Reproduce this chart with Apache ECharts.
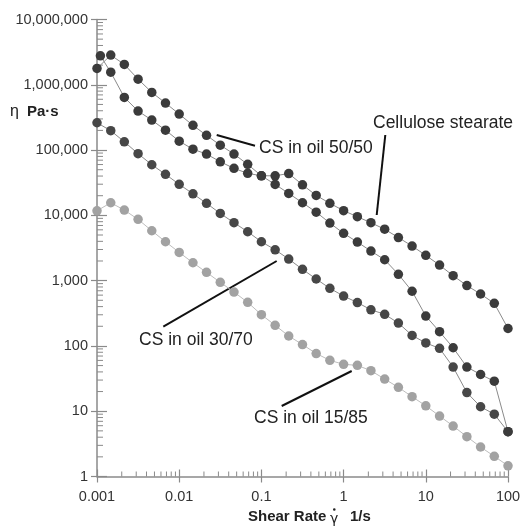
<!DOCTYPE html>
<html><head><meta charset="utf-8">
<script src="https://cdn.jsdelivr.net/npm/echarts@6/dist/echarts.min.js"></script>
<style>html,body{margin:0;padding:0;background:#fff}#c{width:526px;height:531px}</style>
</head><body><div id="c"></div><script>
// Shear rate (1/s), 6 points per decade
const shearRate = [0.001, 0.00147, 0.00215, 0.00316, 0.00464, 0.00681, 0.01, 0.0147, 0.0215, 0.0316, 0.0464, 0.0681,
  0.1, 0.147, 0.215, 0.316, 0.464, 0.681, 1, 1.47, 2.15, 3.16, 4.64, 6.81, 10, 14.7, 21.5, 31.6, 46.4, 68.1, 100];
const shearRateCS = [0.0011, 0.00147, 0.00215, 0.00316, 0.00464, 0.00681, 0.01, 0.0147, 0.0215, 0.0316, 0.0464, 0.0681,
  0.1, 0.147, 0.215, 0.316, 0.464, 0.681, 1, 1.47, 2.15, 3.16, 4.64, 6.81, 10, 14.7, 21.5, 31.6, 46.4, 68.1, 100];
// Viscosity eta (Pa·s)
const celluloseStearate = [2780000, 1560000, 641000, 396000, 288000, 202000, 137000, 103000, 86900, 66200, 52500, 44000,
  40400, 40400, 43700, 29400, 20200, 15300, 11800, 9530, 7710, 6130, 4570, 3390, 2440, 1730, 1190, 841, 624, 449, 185];
const csOil5050 = [1780000, 2850000, 2050000, 1220000, 765000, 525000, 356000, 239000, 168000, 119000, 86900, 60400,
  40400, 29800, 21700, 15600, 11200, 7620, 5300, 3900, 2840, 2090, 1250, 688, 287, 165, 93.8, 47.5, 36.5, 28.8, 4.85];
const csOil3070 = [262000, 198000, 134000, 88100, 59600, 42500, 29900, 21400, 15300, 10700, 7710, 5610,
  3940, 2970, 2140, 1490, 1060, 762, 581, 462, 358, 305, 224, 145, 111, 91.8, 47.5, 19.3, 11.7, 9.0, 4.85];
const csOil1585 = [11750, 15600, 12050, 8680, 5810, 3940, 2710, 1880, 1340, 942, 669, 465,
  301, 207, 142, 105, 76.5, 60.2, 52.2, 50.5, 41.7, 31.1, 23.2, 16.7, 12.1, 8.44, 5.93, 4.07, 2.83, 2.04, 1.46];
// Tick labels
const xTickLabels = ['0.001', '0.01', '0.1', '1', '10', '100'];
const yTickLabels = ['1', '10', '100', '1,000', '10,000', '100,000', '1,000,000', '10,000,000'];
const xDecades = [0.001, 0.01, 0.1, 1, 10];
const yDecades = [1, 10, 100, 1000, 10000, 100000, 1000000];
const minorMultipliers = [2, 3, 4, 5, 6, 7, 8, 9];

const FONT = "'Liberation Sans', Arial, sans-serif";
const AXIS_COLOR = '#8a8a8a';
const chart = echarts.init(document.getElementById('c'));

const pair = (xs, ys) => xs.map((x, i) => [x, ys[i]]);
const xMinor = [], yMinor = [];
xDecades.forEach(d => minorMultipliers.forEach(m => xMinor.push([d * m, 1])));
yDecades.forEach(d => minorMultipliers.forEach(m => yMinor.push([0.001, d * m])));

function dataSeries(name, xs, ys, dot, line) {
  return {
    type: 'line', name, data: pair(xs, ys), symbol: 'circle', symbolSize: 9.5,
    lineStyle: { color: line, width: 1 }, itemStyle: { color: dot }, emphasis: { disabled: true },
    silent: true, animation: false, clip: false
  };
}

const xCommon = { type: 'log', logBase: 10, min: 0.001, max: 100, splitNumber: 5 };
const yCommon = { type: 'log', logBase: 10, min: 1, max: 10000000, splitNumber: 7 };

chart.setOption({
  animation: false,
  grid: { left: 97, right: 18, top: 19.5, bottom: 54.5 },
  xAxis: [
    Object.assign({}, xCommon, {
      axisLine: { show: true, lineStyle: { color: AXIS_COLOR, width: 1.5 } },
      axisTick: { show: true, inside: true, length: 7, lineStyle: { color: AXIS_COLOR, width: 1.2 } },
      splitLine: { show: false },
      axisLabel: { margin: 13, fontFamily: FONT, fontSize: 14.5, color: '#333',
        formatter: v => xTickLabels[Math.round(Math.log10(v)) + 3] }
    }),
    Object.assign({}, xCommon, {
      position: 'bottom',
      axisLine: { show: false }, axisLabel: { show: false }, splitLine: { show: false },
      axisTick: { show: true, inside: false, length: 6, lineStyle: { color: AXIS_COLOR, width: 1.2 } }
    })
  ],
  yAxis: [
    Object.assign({}, yCommon, {
      axisLine: { show: true, lineStyle: { color: AXIS_COLOR, width: 1.5 } },
      axisTick: { show: true, inside: true, length: 10, lineStyle: { color: AXIS_COLOR, width: 1.2 } },
      splitLine: { show: false },
      axisLabel: { margin: 9, fontFamily: FONT, fontSize: 14.5, color: '#333',
        formatter: v => yTickLabels[Math.round(Math.log10(v))] }
    }),
    Object.assign({}, yCommon, {
      position: 'left',
      axisLine: { show: false }, axisLabel: { show: false }, splitLine: { show: false },
      axisTick: { show: true, inside: false, length: 6, lineStyle: { color: AXIS_COLOR, width: 1.2 } }
    })
  ],
  series: [
    {
      type: 'custom', silent: true, clip: false, data: xMinor,
      renderItem: (p, api) => {
        const c = api.coord([api.value(0), api.value(1)]);
        return { type: 'line', shape: { x1: c[0], y1: c[1], x2: c[0], y2: c[1] - 5 },
          style: { stroke: AXIS_COLOR, lineWidth: 1 } };
      }
    },
    {
      type: 'custom', silent: true, clip: false, data: yMinor,
      renderItem: (p, api) => {
        const c = api.coord([api.value(0), api.value(1)]);
        return { type: 'line', shape: { x1: c[0], y1: c[1], x2: c[0] + 6, y2: c[1] },
          style: { stroke: AXIS_COLOR, lineWidth: 1 } };
      }
    },
    dataSeries('CS in oil 15/85', shearRate, csOil1585, '#a2a2a2', '#bdbdbd'),
    dataSeries('CS in oil 30/70', shearRate, csOil3070, '#474747', '#8a8a8a'),
    dataSeries('CS in oil 50/50', shearRate, csOil5050, '#3b3b3b', '#8a8a8a'),
    dataSeries('Cellulose stearate', shearRateCS, celluloseStearate, '#3b3b3b', '#8a8a8a')
  ],
  graphic: [
    { type: 'text', x: 373, y: 123, style: { text: 'Cellulose stearate', font: `17.5px ${FONT}`, fill: '#222', verticalAlign: 'middle' } },
    { type: 'text', x: 259, y: 148, style: { text: 'CS in oil 50/50', font: `17.5px ${FONT}`, fill: '#222', verticalAlign: 'middle' } },
    { type: 'text', x: 139, y: 340, style: { text: 'CS in oil 30/70', font: `17.5px ${FONT}`, fill: '#222', verticalAlign: 'middle' } },
    { type: 'text', x: 254, y: 418, style: { text: 'CS in oil 15/85', font: `17.5px ${FONT}`, fill: '#222', verticalAlign: 'middle' } },
    { type: 'line', shape: { x1: 385.3, y1: 135, x2: 376.7, y2: 215 }, style: { stroke: '#111', lineWidth: 2 } },
    { type: 'line', shape: { x1: 216.7, y1: 135, x2: 255, y2: 145.7 }, style: { stroke: '#111', lineWidth: 2 } },
    { type: 'line', shape: { x1: 163.3, y1: 326.7, x2: 276.7, y2: 261 }, style: { stroke: '#111', lineWidth: 2 } },
    { type: 'line', shape: { x1: 281.7, y1: 406, x2: 351.7, y2: 371 }, style: { stroke: '#111', lineWidth: 2 } },
    { type: 'text', x: 10, y: 112, style: { text: 'η', font: `16px ${FONT}`, fill: '#222', verticalAlign: 'middle' } },
    { type: 'text', x: 27, y: 112, style: { text: 'Pa·s', font: `bold 15px ${FONT}`, fill: '#222', verticalAlign: 'middle' } },
    { type: 'text', x: 248, y: 517, style: { text: 'Shear Rate', font: `bold 15px ${FONT}`, fill: '#222', verticalAlign: 'middle' } },
    { type: 'text', x: 330, y: 519, style: { text: 'γ', font: `14px 'DejaVu Sans', sans-serif`, fill: '#222', verticalAlign: 'middle' } },
    { type: 'circle', shape: { cx: 334.3, cy: 509.5, r: 1.3 }, style: { fill: '#222' } },
    { type: 'text', x: 350, y: 517, style: { text: '1/s', font: `bold 15px ${FONT}`, fill: '#222', verticalAlign: 'middle' } }
  ]
});
</script></body></html>
